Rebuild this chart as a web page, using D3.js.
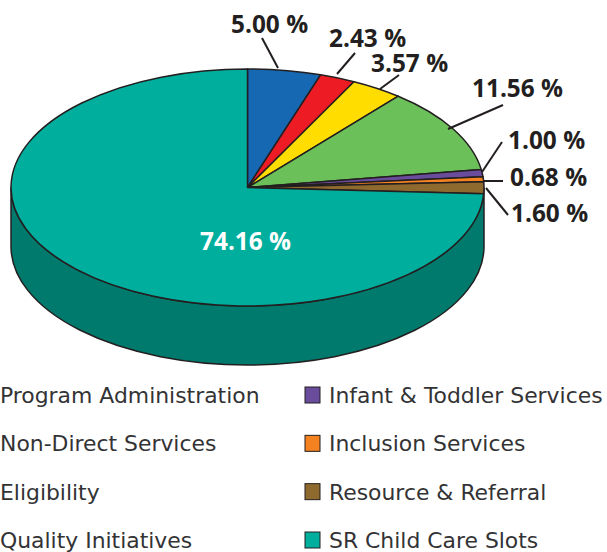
<!DOCTYPE html>
<html>
<head>
<meta charset="utf-8">
<script src="https://cdn.jsdelivr.net/npm/d3@7"></script>
<style>
    html, body { margin: 0; padding: 0; background: #fff; overflow: hidden; }
    svg { display: block; }
    .pct { font-family: "Open Sans", sans-serif; font-weight: 700; font-size: 24.4px; fill: #231f20; }
    .legend-label { font-family: "DejaVu Sans", sans-serif; font-size: 21.9px; fill: #333335; }
</style>
</head>
<body>
<div id="chart"></div>
<script>

// Chart data

var categories = ["Program Administration", "Non-Direct Services", "Eligibility", "Quality Initiatives",
                  "Infant & Toddler Services", "Inclusion Services", "Resource & Referral", "SR Child Care Slots"];
var shares = [5.00, 2.43, 3.57, 11.56, 1.00, 0.68, 1.60, 74.16];
var shareLabels = ["5.00 %", "2.43 %", "3.57 %", "11.56 %", "1.00 %", "0.68 %", "1.60 %", "74.16 %"];
var sliceColors = ["#1768b3", "#ed1c24", "#ffdd00", "#6cc05a", "#6a4c9c", "#f58220", "#8f6a2f", "#00ae9d"];


(function() {

    "use strict";

    var full = {w: 607, h: 552};
    var pieBox = {cx: 247.5, cy: 187.5, rx: 236.5, ry: 118.5, depth: 59};
    var ink = "#231f20";

    // label anchor (text start + baseline) and leader end points, per slice
    var labelLayout = [
        {x: 231, y: 33,  x1: 262,   y1: 38,  x2: 278,   y2: 68},
        {x: 329, y: 47,  x1: 355,   y1: 53,  x2: 337,   y2: 74},
        {x: 371, y: 72,  x1: 399,   y1: 75,  x2: 380,   y2: 89},
        {x: 472, y: 97,  x1: 503,   y1: 105, x2: 448,   y2: 129},
        {x: 508, y: 149, x1: 502,   y1: 142, x2: 482,   y2: 172},
        {x: 510, y: 186, x1: 503,   y1: 181, x2: 483,   y2: 181},
        {x: 511, y: 222, x1: 508,   y1: 215, x2: 486,   y2: 188},
        {x: 200, y: 250}
    ];

    var colorScale = d3.scaleOrdinal().domain(categories).range(sliceColors);

    var svg = d3.select("#chart").append("svg")
        .attr("width", full.w)
        .attr("height", full.h);

    addPieWall(svg);
    addPieTop(svg);
    addShareLabels(svg);
    addLegend(svg);


    function addPieWall(svg) {
        var b = pieBox;
        var wall = "M" + (b.cx + b.rx) + "," + b.cy +
            "A" + b.rx + "," + b.ry + " 0 0 1 " + (b.cx - b.rx) + "," + b.cy +
            "V" + (b.cy + b.depth) +
            "A" + b.rx + "," + b.ry + " 0 0 0 " + (b.cx + b.rx) + "," + (b.cy + b.depth) +
            "Z";
        svg.append("path")
            .attr("d", wall)
            .attr("fill", "#007a6c")
            .attr("stroke", ink)
            .attr("stroke-width", 1.5);
    }


    function addPieTop(svg) {
        var pie = d3.pie().sort(null).value(function(d) { return d; });
        var arc = d3.arc().innerRadius(0).outerRadius(pieBox.rx);

        svg.append("g")
            .attr("transform", "translate(" + pieBox.cx + "," + pieBox.cy + ") scale(1," + (pieBox.ry / pieBox.rx) + ")")
            .selectAll("path")
            .data(pie(shares))
            .enter()
            .append("path")
              .attr("d", arc)
              .attr("fill", function(d, i) { return colorScale(categories[i]); })
              .attr("stroke", ink)
              .attr("stroke-width", 1.5)
              .attr("stroke-linejoin", "round")
              .attr("vector-effect", "non-scaling-stroke");
    }


    function addShareLabels(svg) {
        var leaders = labelLayout.filter(function(d) { return d.x1 !== undefined; });

        svg.append("g").selectAll("line")
            .data(leaders)
            .enter()
            .append("line")
              .attr("x1", function(d) { return d.x1; })
              .attr("y1", function(d) { return d.y1; })
              .attr("x2", function(d) { return d.x2; })
              .attr("y2", function(d) { return d.y2; })
              .attr("stroke", ink)
              .attr("stroke-width", 2);

        svg.append("g").selectAll("text")
            .data(shareLabels)
            .enter()
            .append("text")
              .attr("class", "pct")
              .attr("x", function(d, i) { return labelLayout[i].x; })
              .attr("y", function(d, i) { return labelLayout[i].y; })
              .style("fill", function(d, i) { return i === 7 ? "#fff" : null; })
              .text(function(d) { return d; });
    }


    function addLegend(svg) {
        var rowY = d3.scaleLinear().domain([0, 3]).range([403, 548]);
        var colX = [0, 329];

        var items = svg.append("g").selectAll("g")
            .data(categories)
            .enter()
            .append("g")
              .attr("transform", function(d, i) {
                  return "translate(" + colX[Math.floor(i / 4)] + "," + rowY(i % 4) + ")";
              });

        items.append("text")
            .attr("class", "legend-label")
            .text(function(d) { return d; });

        // swatches of the left column sit outside the page in the reference
        items.filter(function(d, i) { return i >= 4; })
            .append("rect")
              .attr("x", -24)
              .attr("y", -16)
              .attr("width", 15)
              .attr("height", 16)
              .attr("fill", function(d) { return colorScale(d); })
              .attr("stroke", ink)
              .attr("stroke-width", 1);
    }

})();
</script>
</body>
</html>
